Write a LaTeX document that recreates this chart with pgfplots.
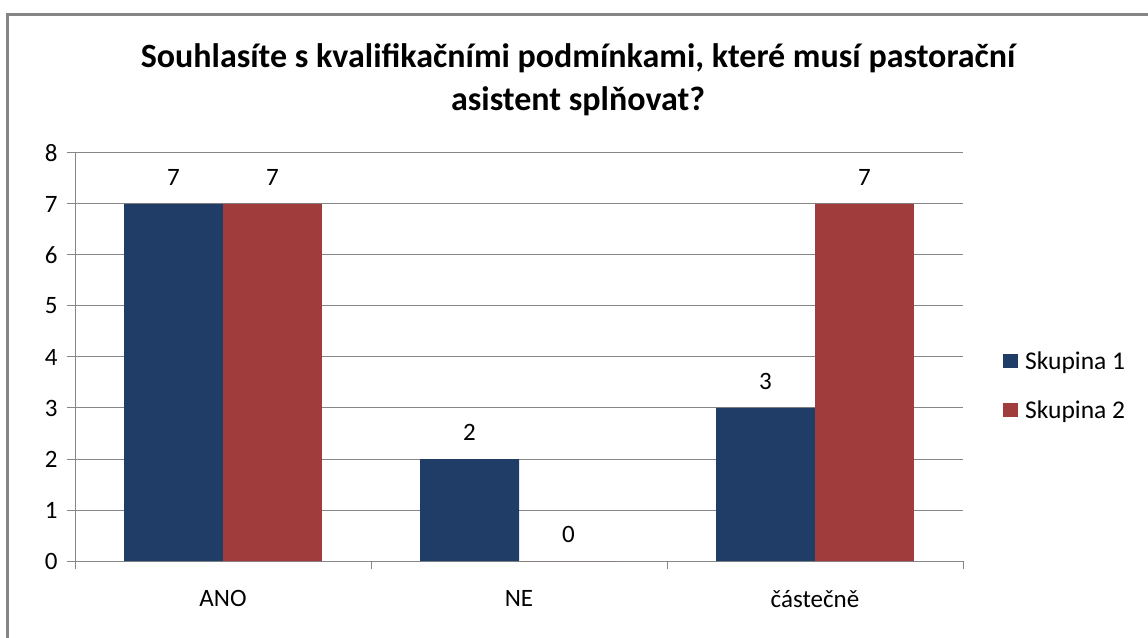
\documentclass[border=0pt]{standalone}
\usepackage{pgfplots}
\pgfplotsset{compat=1.18}
\usepackage{fontspec}
\setmainfont{Carlito}
\definecolor{bblue}{HTML}{1F3D66}
\definecolor{bred}{HTML}{A03D3C}
\definecolor{gridg}{HTML}{868686}
\begin{document}
\begin{tikzpicture}[x=1pt,y=1pt]
\useasboundingbox (0,0) rectangle (1148,637);
\draw[gridg, line width=3pt] (7,-5) -- (7,622) -- (1155,622);
\node[font=\fontsize{34}{43}\selectfont\bfseries, align=center] at (578,557)
  {Souhlasíte s kvalifikačními podmínkami, které musí pastorační\\asistent splňovat?};
\begin{axis}[
  at={(75pt,76pt)}, anchor=origin,
  scale only axis, width=888pt, height=408pt,
  xmin=0, xmax=3, ymin=0, ymax=8,
  ytick={0,1,...,8},
  xtick={0,1,2,3}, xticklabels={},
  extra x ticks={0.5,1.5,2.5},
  extra x tick labels={ANO,NE,částečně},
  extra x tick style={major tick length=0pt, grid=none,
     xticklabel style={yshift=-26pt}},
  axis x line*=bottom, axis y line*=left,
  axis line style={gridg, line width=1pt},
  ymajorgrids, grid style={gridg, line width=1pt},
  tick align=outside, major tick length=8pt,
  tick style={gridg, line width=1pt},
  every tick label/.append style={font=\fontsize{25}{30}\selectfont, text=black},
  /pgf/number format/assume math mode=true,
  yticklabel style={xshift=-6pt},
  ybar, bar width=0.334,
  nodes near coords,
  nodes near coords style={font=\fontsize{25}{30}\selectfont, inner sep=0pt, anchor=south, yshift=18pt},
  legend style={draw=none, fill=none, at={(1.045,0.43)}, anchor=west,
     font=\fontsize{25.5}{30}\selectfont, row sep=26pt, column sep=5pt, inner sep=0pt,
     nodes={inner sep=2pt}},
  legend cell align=left,
  legend image code/.code={\fill[#1] (0pt,-7pt) rectangle (15pt,7pt);},
  clip=false,
]
\addplot[fill=bblue, draw=none, bar shift=-0.167] coordinates {(0.5,7) (1.5,2) (2.5,3)};
\addplot[fill=bred, draw=none, bar shift=0.167] coordinates {(0.5,7) (1.5,0) (2.5,7)};
\legend{Skupina 1, Skupina 2}
\end{axis}
\end{tikzpicture}
\end{document}
